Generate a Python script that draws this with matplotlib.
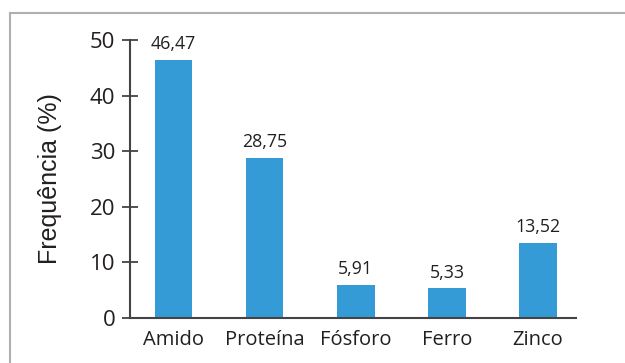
import matplotlib.pyplot as plt
from matplotlib.lines import Line2D

categories = ["Amido", "Proteína", "Fósforo", "Ferro", "Zinco"]
values = [46.47, 28.75, 5.91, 5.33, 13.52]
value_labels = ["46,47", "28,75", "5,91", "5,33", "13,52"]
y_ticks = [0, 10, 20, 30, 40, 50]

plt.rcParams['font.family'] = ['Open Sans', 'DejaVu Sans']
txt = "#231f20"

fig = plt.figure(figsize=(6.25, 3.63), dpi=100)
ax = fig.add_axes([0.208, 0.124, 0.714, 0.766])

x = range(len(categories))
ax.bar(x, values, width=0.41, color="#359bd6")
for i, v in enumerate(values):
    ax.text(i, v + 1.2, value_labels[i], ha="center", va="bottom",
            fontsize=12.8, color=txt)

ax.set_xlim(-0.48, 4.42)
ax.set_ylim(0, 50)
ax.set_yticks(y_ticks)
ax.set_xticks(list(x))
ax.set_xticklabels(categories, fontsize=14.5, color=txt)
ax.tick_params(axis="x", length=0, pad=9)
ax.tick_params(axis="y", direction="inout", length=12, width=1.2,
               color="#333333", labelsize=16, labelcolor=txt, pad=4.5)
ax.set_ylabel("Frequência (%)", fontsize=18, color=txt,
              family=["Liberation Sans", "DejaVu Sans"])
ax.yaxis.set_label_coords(-0.152, 0.5)

for s in ["top", "right"]:
    ax.spines[s].set_visible(False)
for s in ["left", "bottom"]:
    ax.spines[s].set_color("#444444")
    ax.spines[s].set_linewidth(1.5)

# frame lines (top and left only)
fig.add_artist(Line2D([10 / 625, 1], [1 - 13 / 363, 1 - 13 / 363],
                      transform=fig.transFigure, color="#b0b0b0", lw=1.5))
fig.add_artist(Line2D([10 / 625, 10 / 625], [0, 1 - 13 / 363],
                      transform=fig.transFigure, color="#b0b0b0", lw=1.5))

fig.savefig("out.png", dpi=100)
